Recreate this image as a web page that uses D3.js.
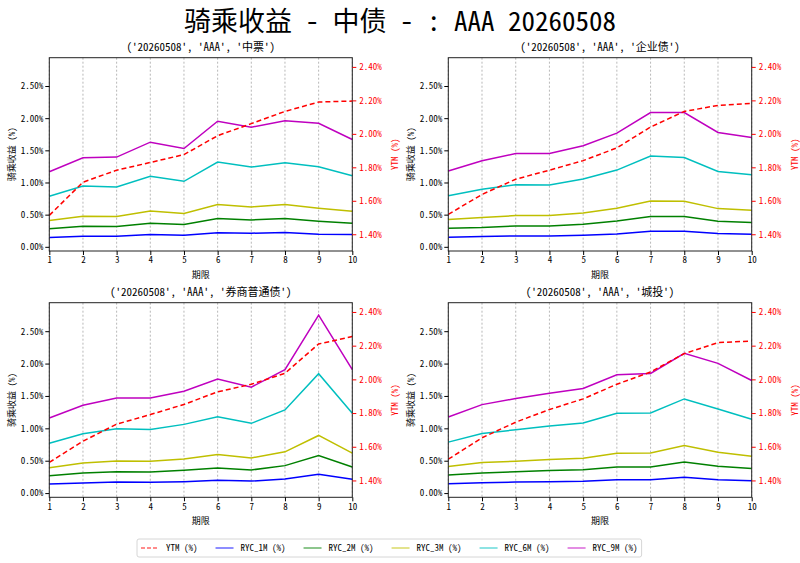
<!DOCTYPE html>
<html>
<head>
<meta charset="utf-8">
<script src="https://cdn.jsdelivr.net/npm/d3@7"></script>
<style>
body { margin: 0; background: #fff; }
text { font-family: "Noto Sans Mono CJK SC", "Noto Sans CJK SC", "DejaVu Sans", sans-serif; }
</style>
</head>
<body>
<svg id="chart"></svg>
<script>
// Terms (x axis) and tick labels
const terms = [1, 2, 3, 4, 5, 6, 7, 8, 9, 10];
const leftTicks = [0, 0.5, 1.0, 1.5, 2.0, 2.5];
const rightTicks = [1.4, 1.6, 1.8, 2.0, 2.2, 2.4];
const seriesNames = ["YTM (%)", "RYC_1M (%)", "RYC_2M (%)", "RYC_3M (%)", "RYC_6M (%)", "RYC_9M (%)"];
const panelTitles = ["('20260508', 'AAA', '中票')", "('20260508', 'AAA', '企业债')",
                     "('20260508', 'AAA', '券商普通债')", "('20260508', 'AAA', '城投')"];

// 中票
const mtnYtm = [1.513, 1.711, 1.783, 1.829, 1.876, 1.989, 2.061, 2.134, 2.190, 2.196];
const mtn1m = [0.145, 0.165, 0.165, 0.191, 0.180, 0.217, 0.212, 0.222, 0.196, 0.191];
const mtn2m = [0.279, 0.320, 0.315, 0.367, 0.346, 0.439, 0.418, 0.439, 0.398, 0.367];
const mtn3m = [0.408, 0.475, 0.470, 0.558, 0.517, 0.656, 0.620, 0.656, 0.600, 0.553];
const mtn6m = [0.785, 0.945, 0.930, 1.095, 1.018, 1.317, 1.240, 1.307, 1.245, 1.105];
const mtn9m = [1.167, 1.384, 1.395, 1.627, 1.529, 1.952, 1.860, 1.958, 1.920, 1.668];

// 企业债
const corpYtm = [1.519, 1.638, 1.729, 1.783, 1.840, 1.916, 2.041, 2.134, 2.170, 2.182];
const corp1m = [0.150, 0.160, 0.170, 0.170, 0.181, 0.201, 0.243, 0.243, 0.207, 0.196];
const corp2m = [0.289, 0.300, 0.325, 0.325, 0.351, 0.403, 0.470, 0.470, 0.398, 0.377];
const corp3m = [0.424, 0.455, 0.486, 0.486, 0.527, 0.599, 0.713, 0.708, 0.594, 0.568];
const corp6m = [0.795, 0.894, 0.966, 0.961, 1.054, 1.193, 1.410, 1.389, 1.172, 1.121];
const corp9m = [1.178, 1.338, 1.451, 1.451, 1.570, 1.767, 2.087, 2.087, 1.777, 1.699];

// 券商普通债
const secYtm = [1.507, 1.633, 1.734, 1.791, 1.851, 1.926, 1.971, 2.036, 2.210, 2.254];
const sec1m = [0.140, 0.155, 0.171, 0.166, 0.176, 0.197, 0.186, 0.217, 0.290, 0.212];
const sec2m = [0.269, 0.311, 0.331, 0.326, 0.352, 0.388, 0.357, 0.424, 0.580, 0.404];
const sec3m = [0.393, 0.466, 0.497, 0.492, 0.528, 0.595, 0.543, 0.637, 0.890, 0.616];
const sec6m = [0.771, 0.916, 0.994, 0.983, 1.061, 1.180, 1.077, 1.284, 1.843, 1.232];
const sec9m = [1.159, 1.356, 1.470, 1.470, 1.573, 1.760, 1.636, 1.905, 2.748, 1.905];

// 城投
const cityYtm = [1.526, 1.653, 1.746, 1.821, 1.884, 1.971, 2.044, 2.153, 2.218, 2.228];
const city1m = [0.145, 0.160, 0.171, 0.176, 0.181, 0.207, 0.207, 0.243, 0.207, 0.192];
const city2m = [0.280, 0.311, 0.331, 0.347, 0.362, 0.404, 0.404, 0.481, 0.414, 0.378];
const city3m = [0.409, 0.471, 0.492, 0.518, 0.538, 0.616, 0.621, 0.735, 0.631, 0.569];
const city6m = [0.787, 0.921, 0.978, 1.035, 1.082, 1.232, 1.237, 1.454, 1.299, 1.139];
const city9m = [1.175, 1.366, 1.460, 1.542, 1.615, 1.827, 1.848, 2.158, 2.003, 1.739];

const colors = ["#ff0000", "#0000ff", "#008000", "#bfbf00", "#00bfbf", "#bf00bf"];

const panelData = [
  [mtnYtm, mtn1m, mtn2m, mtn3m, mtn6m, mtn9m],
  [corpYtm, corp1m, corp2m, corp3m, corp6m, corp9m],
  [secYtm, sec1m, sec2m, sec3m, sec6m, sec9m],
  [cityYtm, city1m, city2m, city3m, city6m, city9m]
];

const w = 800, h = 563;
const boxes = [
  {x0: 49.3, x1: 352.3, y0: 57.7, y1: 251},
  {x0: 448.3, x1: 751.7, y0: 57.7, y1: 251},
  {x0: 49.3, x1: 352.3, y0: 302.7, y1: 497.3},
  {x0: 448.3, x1: 751.7, y0: 302.7, y1: 497.3}
];

const svg = d3.select("#chart")
  .attr("width", w)
  .attr("height", h)
  .style("background-color", "white");

// Main title
svg.append("text")
  .attr("x", 400)
  .attr("y", 31)
  .attr("text-anchor", "middle")
  .attr("font-size", 27)
  .text("骑乘收益 - 中债 - : AAA 20260508");

boxes.forEach((b, p) => {
  const g = svg.append("g");

  const xScale = d3.scaleLinear().domain([1, 10]).range([b.x0, b.x1]);
  const yLeft = d3.scaleLinear().domain([-0.065, 2.94]).range([b.y1, b.y0]);
  const yRight = d3.scaleLinear().domain([1.30, 2.455]).range([b.y1, b.y0]);

  // vertical grid
  g.selectAll(".grid")
    .data(terms)
    .enter()
    .append("line")
    .attr("x1", d => xScale(d))
    .attr("x2", d => xScale(d))
    .attr("y1", b.y0)
    .attr("y2", b.y1)
    .attr("stroke", "#999")
    .attr("stroke-width", 0.7)
    .attr("stroke-dasharray", "2,2");

  // lines (RYC on left, YTM on right)
  const lineL = d3.line().x((d, i) => xScale(terms[i])).y(d => yLeft(d));
  const lineR = d3.line().x((d, i) => xScale(terms[i])).y(d => yRight(d));
  const series = panelData[p];
  for (let s = 1; s < series.length; s++) {
    g.append("path")
      .attr("d", lineL(series[s]))
      .attr("fill", "none")
      .attr("stroke", colors[s])
      .attr("stroke-width", 1.5);
  }
  g.append("path")
    .attr("d", lineR(series[0]))
    .attr("fill", "none")
    .attr("stroke", colors[0])
    .attr("stroke-width", 1.5)
    .attr("stroke-dasharray", "5,3");

  // frame
  g.append("rect")
    .attr("x", b.x0).attr("y", b.y0)
    .attr("width", b.x1 - b.x0).attr("height", b.y1 - b.y0)
    .attr("fill", "none")
    .attr("stroke", "#222")
    .attr("stroke-width", 1);

  // axes
  const xAxis = d3.axisBottom(xScale).tickValues(terms).tickFormat(d3.format("d")).tickSize(4).tickSizeOuter(0).tickPadding(2);
  const yAxisL = d3.axisLeft(yLeft).tickValues(leftTicks).tickFormat(d => d.toFixed(2) + "%").tickSize(4).tickSizeOuter(0).tickPadding(2);
  const yAxisR = d3.axisRight(yRight).tickValues(rightTicks).tickFormat(d => d.toFixed(2) + "%").tickSize(4).tickSizeOuter(0).tickPadding(3);

  const gx = g.append("g").attr("transform", "translate(0," + b.y1 + ")").call(xAxis);
  const gl = g.append("g").attr("transform", "translate(" + b.x0 + ",0)").call(yAxisL);
  const gr = g.append("g").attr("transform", "translate(" + b.x1 + ",0)").call(yAxisR);
  [gx, gl, gr].forEach(a => {
    a.select(".domain").remove();
    a.selectAll("text").attr("font-size", 9).attr("font-family", null);
  });
  gx.selectAll("text").attr("fill", "#000");
  gl.selectAll("text").attr("fill", "#000");
  gr.selectAll("text").attr("fill", "#ff0000");
  gr.selectAll("line").attr("stroke", "#ff0000");

  // labels
  g.append("text")
    .attr("x", (b.x0 + b.x1) / 2)
    .attr("y", b.y0 - 7)
    .attr("text-anchor", "middle")
    .attr("font-size", 11)
    .text(panelTitles[p]);

  g.append("text")
    .attr("x", (b.x0 + b.x1) / 2)
    .attr("y", b.y1 + 27)
    .attr("text-anchor", "middle")
    .attr("font-size", 9)
    .text("期限");

  g.append("text")
    .attr("transform", "translate(" + (b.x0 - 34) + "," + ((b.y0 + b.y1) / 2) + ") rotate(-90)")
    .attr("text-anchor", "middle")
    .attr("font-size", 9)
    .text("骑乘收益 (%)");

  g.append("text")
    .attr("transform", "translate(" + (b.x1 + 46) + "," + ((b.y0 + b.y1) / 2) + ") rotate(-90)")
    .attr("text-anchor", "middle")
    .attr("font-size", 9)
    .attr("fill", "#ff0000")
    .text("YTM (%)");
});

// Legend
const legend = svg.append("g");
const legBox = legend.append("rect")
  .attr("x", 137).attr("y", 539)
  .attr("height", 18)
  .attr("rx", 2)
  .attr("fill", "white")
  .attr("stroke", "#ccc")
  .attr("stroke-width", 0.8);

let cx = 141;
seriesNames.forEach((name, i) => {
  legend.append("line")
    .attr("x1", cx).attr("x2", cx + 18)
    .attr("y1", 548).attr("y2", 548)
    .attr("stroke", colors[i])
    .attr("stroke-opacity", 0.6)
    .attr("stroke-width", 1.5)
    .attr("stroke-dasharray", i === 0 ? "4,2" : null);
  const t = legend.append("text")
    .attr("x", cx + 25)
    .attr("y", 551)
    .attr("font-size", 9)
    .text(name);
  cx = cx + 25 + t.node().getComputedTextLength() + 18;
});
legBox.attr("width", cx - 18 + 4 - 137);
</script>
</body>
</html>
